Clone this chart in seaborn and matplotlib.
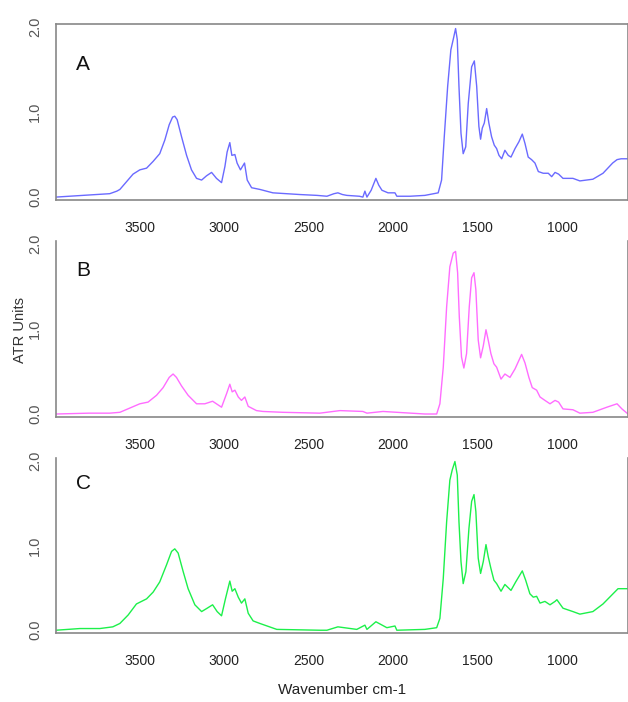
import matplotlib
matplotlib.use("Agg")
import matplotlib.pyplot as plt
import seaborn as sns

# spectra (wavenumber cm-1, ATR units)
wn_a = [3997, 3838, 3678, 3636, 3618, 3579, 3540, 3500, 3460, 3421, 3382, 3352, 3326, 3306,
        3293, 3279, 3253, 3223, 3194, 3164, 3134, 3105, 3075, 3046, 3016, 2996, 2983, 2967,
        2955, 2937, 2924, 2904, 2880, 2864, 2838, 2789, 2712, 2552, 2450, 2392, 2350, 2327,
        2300, 2274, 2200, 2179, 2167, 2155, 2130, 2102, 2085, 2066, 2030, 1989, 1978, 1900,
        1812, 1733, 1713, 1697, 1677, 1658, 1642, 1630, 1620, 1610, 1598, 1585, 1570, 1555,
        1535, 1519, 1505, 1492, 1482, 1472, 1460, 1446, 1433, 1417, 1401, 1387, 1373, 1357,
        1338, 1318, 1302, 1278, 1255, 1235, 1219, 1200, 1180, 1160, 1140, 1111, 1081, 1061,
        1041, 1020, 994, 935, 894, 817, 757, 700, 674, 650, 609]
atr_a = [0.0, 0.02, 0.04, 0.07, 0.09, 0.18, 0.27, 0.32, 0.34, 0.42, 0.51, 0.67, 0.85, 0.94,
         0.95, 0.91, 0.71, 0.49, 0.32, 0.22, 0.20, 0.25, 0.29, 0.22, 0.17, 0.36, 0.53, 0.64,
         0.49, 0.50, 0.40, 0.32, 0.40, 0.20, 0.11, 0.09, 0.05, 0.03, 0.02, 0.01, 0.04, 0.05,
         0.03, 0.02, 0.01, 0.0, 0.07, 0.0, 0.08, 0.22, 0.14, 0.08, 0.05, 0.05, 0.01, 0.01,
         0.02, 0.05, 0.20, 0.71, 1.30, 1.73, 1.87, 1.98, 1.85, 1.30, 0.75, 0.51, 0.59, 1.10,
         1.53, 1.60, 1.30, 0.83, 0.68, 0.81, 0.87, 1.04, 0.87, 0.71, 0.61, 0.57, 0.49, 0.45,
         0.55, 0.49, 0.47, 0.57, 0.65, 0.74, 0.63, 0.47, 0.44, 0.40, 0.30, 0.28, 0.28, 0.24,
         0.29, 0.27, 0.22, 0.22, 0.19, 0.21, 0.28, 0.40, 0.44, 0.45, 0.45]

wn_b = [3997, 3800, 3678, 3618, 3559, 3500, 3451, 3401, 3362, 3326, 3303, 3283, 3253, 3214,
        3164, 3115, 3069, 3016, 2986, 2967, 2953, 2937, 2917, 2898, 2878, 2858, 2809, 2771,
        2653, 2434, 2315, 2179, 2155, 2060, 1978, 1812, 1742, 1723, 1703, 1683, 1664, 1644,
        1630, 1618, 1608, 1595, 1581, 1565, 1549, 1535, 1521, 1510, 1496, 1482, 1466, 1450,
        1437, 1421, 1403, 1387, 1361, 1338, 1308, 1278, 1239, 1219, 1196, 1176, 1150, 1130,
        1101, 1071, 1041, 1020, 994, 935, 894, 817, 734, 674, 645, 609]
atr_b = [0.0, 0.01, 0.01, 0.02, 0.07, 0.12, 0.14, 0.22, 0.31, 0.43, 0.47, 0.43, 0.33, 0.22,
         0.12, 0.12, 0.15, 0.08, 0.24, 0.35, 0.26, 0.28, 0.20, 0.16, 0.20, 0.09, 0.04, 0.03,
         0.02, 0.01, 0.04, 0.03, 0.01, 0.03, 0.02, 0.0, 0.0, 0.12, 0.55, 1.26, 1.73, 1.89,
         1.91, 1.66, 1.14, 0.67, 0.54, 0.71, 1.26, 1.60, 1.66, 1.46, 0.87, 0.66, 0.80, 0.99,
         0.87, 0.71, 0.59, 0.55, 0.41, 0.47, 0.43, 0.53, 0.70, 0.60, 0.43, 0.31, 0.28, 0.20,
         0.16, 0.12, 0.16, 0.14, 0.06, 0.05, 0.01, 0.02, 0.08, 0.12, 0.06, 0.0]

wn_c = [3997, 3855, 3737, 3660, 3618, 3569, 3520, 3460, 3421, 3382, 3342, 3312, 3293, 3273,
        3243, 3214, 3174, 3134, 3101, 3069, 3042, 3016, 2993, 2967, 2953, 2937, 2917, 2898,
        2878, 2858, 2829, 2789, 2689, 2434, 2392, 2327, 2215, 2167, 2155, 2102, 2037, 1989,
        1978, 1812, 1742, 1723, 1703, 1683, 1664, 1650, 1634, 1620, 1610, 1598, 1585, 1569,
        1551, 1535, 1521, 1510, 1496, 1482, 1466, 1450, 1437, 1421, 1403, 1387, 1361, 1338,
        1302, 1274, 1235, 1215, 1190, 1170, 1150, 1130, 1101, 1071, 1041, 1030, 994, 935,
        894, 817, 757, 668, 609]
atr_c = [0.0, 0.02, 0.02, 0.04, 0.08, 0.18, 0.31, 0.37, 0.45, 0.57, 0.77, 0.93, 0.96, 0.91,
         0.69, 0.49, 0.30, 0.22, 0.26, 0.30, 0.22, 0.17, 0.37, 0.58, 0.46, 0.49, 0.39, 0.32,
         0.37, 0.20, 0.11, 0.08, 0.01, 0.0, 0.0, 0.04, 0.01, 0.06, 0.01, 0.10, 0.03, 0.05,
         0.0, 0.01, 0.03, 0.14, 0.61, 1.28, 1.77, 1.89, 1.99, 1.83, 1.28, 0.81, 0.55, 0.69,
         1.20, 1.52, 1.60, 1.40, 0.85, 0.67, 0.81, 1.01, 0.87, 0.73, 0.59, 0.55, 0.46, 0.54,
         0.47, 0.57, 0.70, 0.59, 0.43, 0.39, 0.40, 0.32, 0.34, 0.30, 0.34, 0.36, 0.26, 0.22,
         0.19, 0.22, 0.31, 0.49, 0.49]

panels = ["A", "B", "C"]
colors = ["#6a6aff", "#ff6cff", "#1cf04a"]
xticks = [3500, 3000, 2500, 2000, 1500, 1000]
yticks = [0.0, 1.0, 2.0]

sns.set_style("white")
font = ["Liberation Sans", "DejaVu Sans"]

fig = plt.figure(figsize=(6.28, 7.02), dpi=100)
boxes = [[0.089, 0.715, 0.911, 0.251],
         [0.089, 0.406, 0.911, 0.251],
         [0.089, 0.098, 0.911, 0.250]]
series = [(wn_a, atr_a), (wn_b, atr_b), (wn_c, atr_c)]
label_y = [0.74, 0.80, 0.82]

for i, (box, (wn, atr)) in enumerate(zip(boxes, series)):
    ax = fig.add_axes(box)
    sns.lineplot(x=wn, y=atr, ax=ax, color=colors[i], linewidth=1.0, estimator=None)
    ax.set_xlim(3997, 609)
    ax.set_ylim(-0.035, 2.035)
    ax.set_xticks(xticks)
    ax.set_xticklabels([str(t) for t in xticks], family=font, fontsize=10, color="#222222")
    ax.set_yticks(yticks)
    ax.set_yticklabels([f"{t:.1f}" for t in yticks], family=font, fontsize=10.5,
                       color="#555555", rotation=90, va="center")
    ax.tick_params(axis="x", length=7, width=1, color="#777777", pad=8, direction="out")
    ax.tick_params(axis="y", length=5, width=1, color="#777777", pad=5, direction="out")
    for s in ax.spines.values():
        s.set_color("#888888")
        s.set_linewidth(1.2)
    ax.spines["top"].set_visible(i == 0)
    ax.text(0.035, label_y[i], panels[i], transform=ax.transAxes,
            family=font, fontsize=15, color="#111111")
    ax.set_xlabel("")
    ax.set_ylabel("")

fig.text(0.032, 0.53, "ATR Units", rotation=90, va="center", ha="center",
         family=font, fontsize=10.5, color="#333333")
fig.text(0.545, 0.017, "Wavenumber cm-1", ha="center", va="center",
         family=font, fontsize=11, color="#222222")

fig.savefig("out.png", dpi=100)
